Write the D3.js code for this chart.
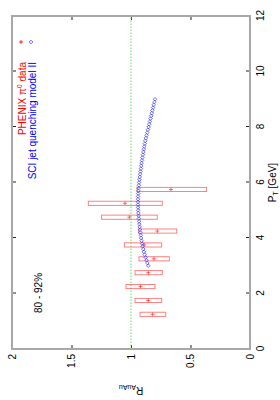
<!DOCTYPE html>
<html>
<head>
<meta charset="utf-8">
<script src="https://cdn.jsdelivr.net/npm/d3@7"></script>
<style>
body { margin: 0; background: #fff; }
svg { display: block; font-family: "Liberation Sans", Arial, sans-serif; }
</style>
</head>
<body>
<svg id="chart" width="280" height="400"></svg>
<script>
// PHENIX pi0 data, 80-92% centrality
const DATA_PT = [1.25, 1.75, 2.25, 2.75, 3.25, 3.75, 4.25, 4.75, 5.25, 5.75];
const DATA_R = [0.818, 0.855, 0.92, 0.855, 0.807, 0.89, 0.779, 1.014, 1.05, 0.664];
const DATA_R_LOW = [0.708, 0.742, 0.798, 0.737, 0.678, 0.742, 0.616, 0.779, 0.737, 0.364];
const DATA_R_HIGH = [0.924, 0.966, 1.042, 0.966, 0.933, 1.056, 0.937, 1.247, 1.359, 0.95];

// SCI jet quenching model II curve
const MODEL_PT = [3.0, 3.1, 3.2, 3.3, 3.4, 3.5, 3.6, 3.7, 3.8, 3.9,
    4.0, 4.1, 4.2, 4.3, 4.4, 4.5, 4.6, 4.7, 4.8, 4.9,
    5.0, 5.1, 5.2, 5.3, 5.4, 5.5, 5.6, 5.7, 5.8, 5.9,
    6.0, 6.1, 6.2, 6.3, 6.4, 6.5, 6.6, 6.7, 6.8, 6.9,
    7.0, 7.1, 7.2, 7.3, 7.4, 7.5, 7.6, 7.7, 7.8, 7.9,
    8.0, 8.1, 8.2, 8.3, 8.4, 8.5, 8.6, 8.7, 8.8, 8.9, 9.0];
const MODEL_R = [0.855, 0.863, 0.870, 0.877, 0.885, 0.892, 0.897, 0.902, 0.907, 0.911,
    0.915, 0.918, 0.921, 0.924, 0.927, 0.930, 0.932, 0.934, 0.936, 0.938,
    0.939, 0.940, 0.940, 0.941, 0.941, 0.940, 0.939, 0.938, 0.936, 0.934,
    0.932, 0.929, 0.926, 0.923, 0.920, 0.917, 0.914, 0.911, 0.907, 0.904,
    0.900, 0.896, 0.892, 0.888, 0.884, 0.880, 0.875, 0.869, 0.863, 0.858,
    0.852, 0.847, 0.841, 0.836, 0.830, 0.825, 0.820, 0.814, 0.809, 0.803, 0.798];

const PT_TICKS = [0, 2, 4, 6, 8, 10, 12];
const R_TICKS = [0, 0.5, 1, 1.5, 2];

const BOX_HALF = 0.075;
const FRAME_COLOR = '#a8a8a8';
const DATA_COLOR = '#ff0000';
const MODEL_COLOR = '#3a3aff';

var svg = d3.select('#chart');
svg.append('rect').attr('width', 280).attr('height', 400).attr('fill', '#fff');

// plot is laid out landscape, then turned a quarter turn counter-clockwise
var g = svg.append('g').attr('transform', 'translate(0,400) rotate(-90)');

var x = d3.scaleLinear().domain([0, 12]).range([51, 384]);
var y = d3.scaleLinear().domain([0, 2]).range([250, 12]);

function styleAxis(sel) {
    sel.select('.domain').remove();
    sel.attr('font-family', null).attr('font-size', 10);
    sel.selectAll('.tick line').attr('stroke', '#222');
    sel.selectAll('.tick text').attr('fill', '#000');
}

/* axes, ticks point inward and are mirrored */
g.append('g')
    .attr('transform', 'translate(0,250)')
    .call(d3.axisBottom(x).tickValues(PT_TICKS).tickSizeInner(-4).tickSizeOuter(0).tickPadding(6.5))
    .call(styleAxis);
g.append('g')
    .attr('transform', 'translate(0,12)')
    .call(d3.axisTop(x).tickValues(PT_TICKS).tickSizeInner(-4).tickSizeOuter(0).tickFormat(''))
    .call(styleAxis);
g.append('g')
    .attr('transform', 'translate(51,0)')
    .call(d3.axisLeft(y).tickValues(R_TICKS).tickSizeInner(-4).tickSizeOuter(0).tickPadding(5)
        .tickFormat(d => String(d)))
    .call(styleAxis);
g.append('g')
    .attr('transform', 'translate(384,0)')
    .call(d3.axisRight(y).tickValues(R_TICKS).tickSizeInner(-4).tickSizeOuter(0).tickFormat(''))
    .call(styleAxis);

g.append('rect')
    .attr('x', x(0)).attr('y', y(2))
    .attr('width', x(12) - x(0)).attr('height', y(0) - y(2))
    .attr('fill', 'none')
    .attr('stroke', FRAME_COLOR)
    .attr('stroke-width', 2);

// R = 1 reference
g.append('line')
    .attr('x1', x(0)).attr('x2', x(12))
    .attr('y1', y(1)).attr('y2', y(1))
    .attr('stroke', '#66dd66')
    .attr('stroke-width', 1)
    .attr('stroke-dasharray', '1.5,1.5');

/* data error boxes and points */
g.append('g').selectAll('rect')
    .data(DATA_PT)
    .join('rect')
    .attr('x', d => x(d - BOX_HALF))
    .attr('width', d => x(d + BOX_HALF) - x(d - BOX_HALF))
    .attr('y', (d, i) => y(DATA_R_HIGH[i]))
    .attr('height', (d, i) => y(DATA_R_LOW[i]) - y(DATA_R_HIGH[i]))
    .attr('fill', 'none')
    .attr('stroke', DATA_COLOR)
    .attr('stroke-opacity', 0.55)
    .attr('stroke-width', 0.9);

const PLUS = 'M-2,0H2M0,-2V2';
const DIAMOND = 'M0,-1.8L1.8,0L0,1.8L-1.8,0Z';

g.append('g').selectAll('path')
    .data(DATA_PT)
    .join('path')
    .attr('transform', (d, i) => 'translate(' + x(d) + ',' + y(DATA_R[i]) + ')')
    .attr('d', PLUS)
    .attr('stroke', DATA_COLOR)
    .attr('stroke-opacity', 0.8)
    .attr('stroke-width', 0.7);

g.append('g').selectAll('path')
    .data(MODEL_PT)
    .join('path')
    .attr('transform', (d, i) => 'translate(' + x(d) + ',' + y(MODEL_R[i]) + ')')
    .attr('d', DIAMOND)
    .attr('fill', 'none')
    .attr('stroke', MODEL_COLOR)
    .attr('stroke-width', 0.7);

/* legend */
var t1 = g.append('text')
    .attr('x', 338).attr('y', 25.5)
    .attr('text-anchor', 'end')
    .attr('font-size', 10)
    .attr('fill', DATA_COLOR);
t1.append('tspan').text('PHENIX \u03c0');
t1.append('tspan').attr('dy', -4).attr('font-size', 7).text('0');
t1.append('tspan').attr('dy', 4).text(' data');
g.append('path')
    .attr('transform', 'translate(358,21)')
    .attr('d', PLUS)
    .attr('stroke', DATA_COLOR)
    .attr('stroke-width', 0.8);

g.append('text')
    .attr('x', 338).attr('y', 35.5)
    .attr('text-anchor', 'end')
    .attr('font-size', 10)
    .attr('fill', '#0000ff')
    .text('SCI jet quenching model II');
g.append('path')
    .attr('transform', 'translate(358,31)')
    .attr('d', DIAMOND)
    .attr('fill', 'none')
    .attr('stroke', MODEL_COLOR)
    .attr('stroke-width', 0.8);

g.append('text')
    .attr('x', 87).attr('y', 41.5)
    .attr('font-size', 10)
    .text('80 - 92%');

/* axis titles */
var xl = g.append('text')
    .attr('x', 217.5).attr('y', 276)
    .attr('text-anchor', 'middle')
    .attr('font-size', 10);
xl.append('tspan').text('P');
xl.append('tspan').attr('dy', 2).attr('font-size', 7).text('T');
xl.append('tspan').attr('dy', -2).text(' [GeV]');

var yl = g.append('text')
    .attr('transform', 'translate(13,131) rotate(-90)')
    .attr('text-anchor', 'middle')
    .attr('font-size', 10);
yl.append('tspan').text('R');
yl.append('tspan').attr('dy', 2).attr('font-size', 7).text('AuAu');
</script>
</body>
</html>
